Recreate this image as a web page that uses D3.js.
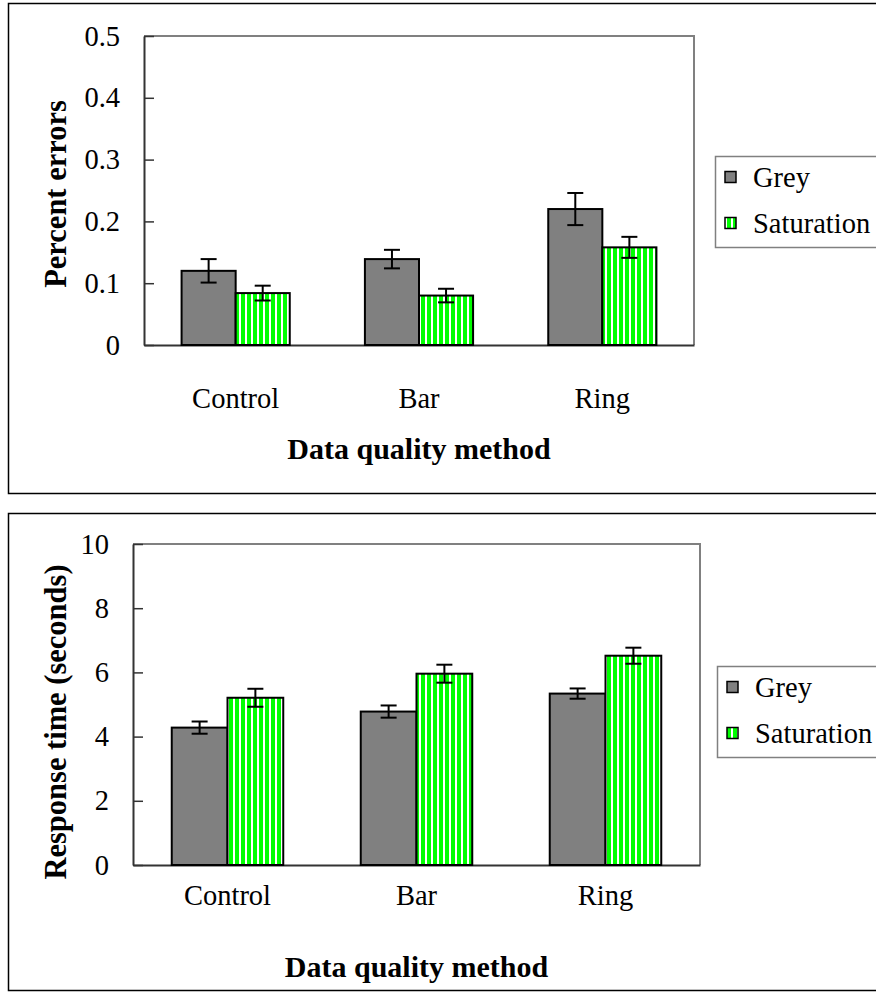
<!DOCTYPE html>
<html>
<head>
<meta charset="utf-8">
<script src="https://cdn.jsdelivr.net/npm/d3@7"></script>
<style>
  html, body { margin: 0; padding: 0; background: #fff; }
  svg { display: block; }
</style>
</head>
<body>
<svg id="chart" width="876" height="1001"></svg>
<script>
// ---- data ----
const categories = ["Control", "Bar", "Ring"];
const seriesNames = ["Grey", "Saturation"];

const errorsGrey = [0.12, 0.139, 0.22];
const errorsGreyErr = [0.019, 0.015, 0.026];
const errorsSat = [0.084, 0.080, 0.158];
const errorsSatErr = [0.012, 0.011, 0.017];
const errorTicks = [0, 0.1, 0.2, 0.3, 0.4, 0.5];
const errorTickLabels = ["0", "0.1", "0.2", "0.3", "0.4", "0.5"];

const timeGrey = [4.28, 4.78, 5.34];
const timeGreyErr = [0.19, 0.19, 0.16];
const timeSat = [5.21, 5.96, 6.52];
const timeSatErr = [0.28, 0.28, 0.25];
const timeTicks = [0, 2, 4, 6, 8, 10];
const timeTickLabels = ["0", "2", "4", "6", "8", "10"];

const xTitle = "Data quality method";

const FONT = "'Liberation Serif', 'Times New Roman', serif";
const FS = 28.5;
const FS_B = 30;

const svg = d3.select("#chart");

// stripe pattern
const defs = svg.append("defs");
const pat = defs.append("pattern")
  .attr("id", "stripes").attr("patternUnits", "userSpaceOnUse")
  .attr("width", 6).attr("height", 10);
pat.append("rect").attr("width", 6).attr("height", 10).attr("fill", "#ffffff");
pat.append("rect").attr("x", 1).attr("width", 4).attr("height", 10).attr("fill", "#00ff00");

const fills = ["#808080", "url(#stripes)"];

function drawChart(cfg) {
  const g = svg.append("g").attr("font-family", FONT);
  // outer frame
  g.append("rect")
    .attr("x", cfg.frame[0] + 0.5).attr("y", cfg.frame[1] + 0.5)
    .attr("width", cfg.frame[2]).attr("height", cfg.frame[3])
    .attr("fill", "#fff").attr("stroke", "#000").attr("stroke-width", 1.5);

  const x = d3.scaleBand().domain(categories)
    .range([cfg.left, cfg.right]).paddingInner(0.41).paddingOuter(0.205);
  const xs = d3.scaleBand().domain(seriesNames).range([0, x.bandwidth()]);
  const y = d3.scaleLinear().domain(cfg.domain).range([cfg.bottom, cfg.top]);

  // plot border (top/right grey)
  g.append("path")
    .attr("d", `M${cfg.left},${cfg.top}H${cfg.right}V${cfg.bottom}`)
    .attr("fill", "none").attr("stroke", "#808080").attr("stroke-width", 2);

  // y axis
  const yAxis = d3.axisLeft(y).tickValues(cfg.ticks)
    .tickFormat((d, i) => cfg.tickLabels[i]).tickSizeInner(-10).tickSizeOuter(0).tickPadding(24);
  const ya = g.append("g").attr("transform", `translate(${cfg.left},0)`).call(yAxis);
  ya.attr("font-family", FONT).attr("font-size", FS);
  ya.select(".domain").attr("stroke", "#333").attr("stroke-width", 2);
  ya.selectAll(".tick line").attr("stroke", "#333").attr("stroke-width", 1.5);
  ya.selectAll(".tick text").attr("fill", "#000");

  // x axis
  const xAxis = d3.axisBottom(x).tickSize(0).tickPadding(0);
  const xa = g.append("g").attr("transform", `translate(0,${cfg.bottom})`).call(xAxis);
  xa.attr("font-family", FONT).attr("font-size", FS);
  xa.select(".domain").attr("stroke", "#333").attr("stroke-width", 2);
  xa.selectAll(".tick text")
    .attr("fill", "#000").attr("dy", null).attr("y", cfg.catY - cfg.bottom);

  const data = [];
  categories.forEach((c, i) => {
    cfg.series.forEach((s, j) => data.push({ c, s: seriesNames[j], v: s.vals[i], e: s.errs[i], j }));
  });

  g.selectAll("rect.bar").data(data).join("rect").attr("class", "bar")
    .attr("x", d => x(d.c) + xs(d.s))
    .attr("y", d => y(d.v))
    .attr("width", xs.bandwidth())
    .attr("height", d => y(0) - y(d.v))
    .attr("fill", d => fills[d.j])
    .attr("stroke", "#000").attr("stroke-width", 2);

  const eb = g.selectAll("g.err").data(data).join("g").attr("class", "err")
    .attr("stroke", "#000").attr("stroke-width", 2);
  eb.append("line")
    .attr("x1", d => x(d.c) + xs(d.s) + xs.bandwidth() / 2)
    .attr("x2", d => x(d.c) + xs(d.s) + xs.bandwidth() / 2)
    .attr("y1", d => y(d.v + d.e)).attr("y2", d => y(d.v - d.e));
  [1, -1].forEach(sg => {
    eb.append("line")
      .attr("x1", d => x(d.c) + xs(d.s) + xs.bandwidth() / 2 - 8)
      .attr("x2", d => x(d.c) + xs(d.s) + xs.bandwidth() / 2 + 8)
      .attr("y1", d => y(d.v + sg * d.e)).attr("y2", d => y(d.v + sg * d.e));
  });

  // titles
  g.append("text").attr("x", (cfg.left + cfg.right) / 2).attr("y", cfg.xTitleY)
    .attr("text-anchor", "middle").attr("font-size", FS_B).attr("font-weight", "bold")
    .attr("fill", "#000").text(xTitle);
  g.append("text")
    .attr("transform", `translate(${cfg.yTitleX},${cfg.yTitleY}) rotate(-90)`)
    .attr("text-anchor", "middle").attr("font-size", FS_B + 0.5).attr("font-weight", "bold")
    .attr("fill", "#000").text(cfg.yTitle);

  // legend
  const lg = g.append("g");
  lg.append("rect").attr("x", cfg.legend[0] + 0.5).attr("y", cfg.legend[1] + 0.5)
    .attr("width", 200).attr("height", 91)
    .attr("fill", "#fff").attr("stroke", "#808080").attr("stroke-width", 1.5);
  seriesNames.forEach((n, j) => {
    const cy = cfg.legend[1] + 21 + j * 46;
    lg.append("rect").attr("x", cfg.legend[0] + 10).attr("y", cy - 5.5)
      .attr("width", 11).attr("height", 11)
      .attr("fill", fills[j]).attr("stroke", "#000").attr("stroke-width", 1.5);
    lg.append("text").attr("x", cfg.legend[0] + 38).attr("y", cy + 9.5)
      .attr("font-size", FS).attr("fill", "#000").text(n);
  });
}

drawChart({
  frame: [8, 3, 900, 490],
  left: 144, right: 694, top: 36, bottom: 345,
  domain: [0, 0.5], ticks: errorTicks, tickLabels: errorTickLabels,
  series: [{ vals: errorsGrey, errs: errorsGreyErr }, { vals: errorsSat, errs: errorsSatErr }],
  catY: 408, xTitleY: 459,
  yTitle: "Percent errors", yTitleX: 66, yTitleY: 194,
  legend: [715, 156]
});

drawChart({
  frame: [8, 513, 900, 477],
  left: 133, right: 700, top: 544, bottom: 865,
  domain: [0, 10], ticks: timeTicks, tickLabels: timeTickLabels,
  series: [{ vals: timeGrey, errs: timeGreyErr }, { vals: timeSat, errs: timeSatErr }],
  catY: 905, xTitleY: 977,
  yTitle: "Response time (seconds)", yTitleX: 66, yTitleY: 722,
  legend: [717, 666]
});
</script>
</body>
</html>
